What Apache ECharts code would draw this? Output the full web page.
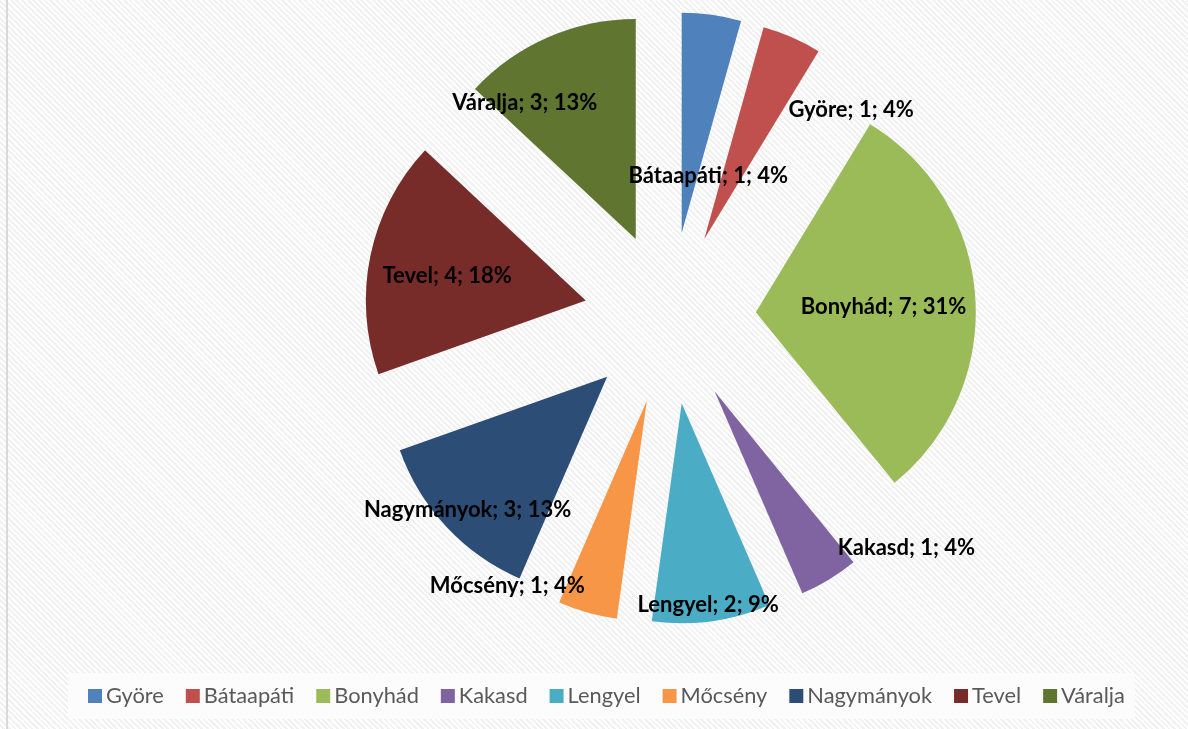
<!DOCTYPE html>
<html>
<head>
<meta charset="utf-8">
<script src="https://cdn.jsdelivr.net/npm/echarts@6/dist/echarts.min.js"></script>
<style>
  html, body { margin: 0; padding: 0; }
  body {
    width: 1188px; height: 729px; overflow: hidden;
    background: repeating-linear-gradient(45deg, #ffffff 0px, #ffffff 2px, #f1f1f1 2px, #f1f1f1 4px);
  }
  #frame { position: absolute; left: 6px; top: 0; width: 1174px; height: 729px; border-left: 2px solid #d9d9d9; box-sizing: border-box; }
  #main { position: absolute; left: 0; top: 0; width: 1188px; height: 729px; }
</style>
</head>
<body>
<div id="frame"></div>
<div id="main"></div>
<script>
// adatok
var names = ['Györe', 'Bátaapáti', 'Bonyhád', 'Kakasd', 'Lengyel', 'Mőcsény', 'Nagymányok', 'Tevel', 'Váralja'];
var values = [1, 1, 7, 1, 2, 1, 3, 4, 3];
var percents = [4, 4, 31, 4, 9, 4, 13, 18, 13];
var colors = ['#4F81BD', '#C0504D', '#9BBB59', '#8064A2', '#4BACC6', '#F79646', '#2C4D75', '#772C2A', '#5F7530'];

// címkék eltolása az alap "inside" helyzethez képest (Excel kézi elrendezés)
var labelNudge = [[154, -11], [-41, 40], [15, 2], [133, 60], [11, 90], [-109, 76], [-57, 56], [-28, -2], [-66, -33]];

var chartDom = document.getElementById('main');
var myChart = echarts.init(chartDom);

var pieData = names.map(function (n, i) {
    return {
        name: n,
        value: values[i],
        selected: true, // minden szelet kihúzva
        itemStyle: { color: colors[i] }
    };
});

var option = {
    backgroundColor: 'transparent',
    animation: false,
    legend: {
        data: names,
        left: 68,
        top: 673,
        orient: 'horizontal',
        backgroundColor: '#fcfcfc',
        padding: [12, 10, 12, 20],
        itemWidth: 14,
        itemHeight: 14,
        itemGap: 22,
        icon: 'rect',
        selectedMode: false,
        textStyle: {
            fontFamily: 'Lato',
            fontSize: 21.8,
            color: '#595959',
            padding: [0, 0, 0, -1]
        }
    },
    series: [{
        type: 'pie',
        center: [670, 318],
        radius: [0, 220],
        startAngle: 90,
        clockwise: true,
        selectedMode: 'multiple',
        selectedOffset: 86,
        avoidLabelOverlap: false,
        emphasis: { disabled: true },
        label: {
            show: true,
            position: 'inside',
            fontFamily: 'Lato',
            fontWeight: 'bold',
            fontSize: 22,
            color: '#000',
            formatter: function (p) {
                return p.name + '; ' + p.value + '; ' + percents[p.dataIndex] + '%';
            }
        },
        labelLine: { show: false },
        labelLayout: function (params) {
            var d = labelNudge[params.dataIndex];
            return { dx: d[0], dy: d[1] };
        },
        data: pieData
    }]
};

myChart.setOption(option);
</script>
</body>
</html>
